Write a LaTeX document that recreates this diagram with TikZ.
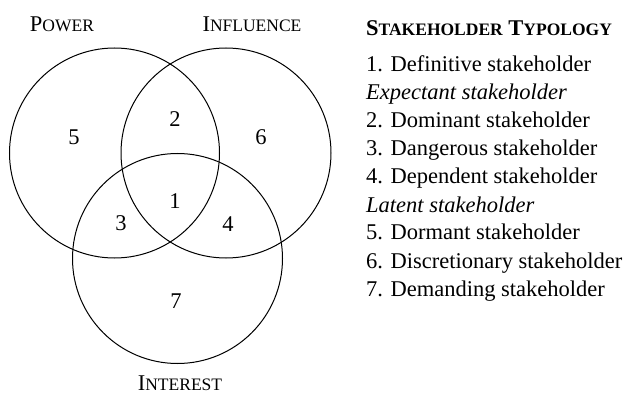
\documentclass[tikz,border=0pt]{standalone}
\usepackage{fontspec}
\setmainfont{Liberation Serif}
\newcommand\mysc[2]{#1{\fontsize{17.5pt}{21pt}\selectfont #2}}
\begin{document}
\begin{tikzpicture}[x=1pt,y=-1pt,
  font=\fontsize{22.5pt}{27pt}\selectfont,
  ring/.style={draw=black, line width=1pt},
  num/.style={inner sep=0pt, anchor=center},
  lbl/.style={inner sep=0pt, anchor=base},
  item/.style={inner sep=0pt, anchor=base west}]
\useasboundingbox (0,0) rectangle (625,396);
\coordinate (cpower) at (114.5,153);
\coordinate (cinfl) at (226,153);
\coordinate (cint) at (177.5,258.5);
\draw[ring] (cpower) circle[radius=105pt];
\draw[ring] (cinfl) circle[radius=105pt];
\draw[ring] (cint) circle[radius=105pt];
\node[lbl] (lpower) at (62,32) {\mysc{P}{OWER}};
\node[lbl] (linfl) at (252,32) {\mysc{I}{NFLUENCE}};
\node[lbl] (lint) at (180,390) {\mysc{I}{NTEREST}};
\node[num] (n5) at (74,137) {5};
\node[num] (n2) at (175,119) {2};
\node[num] (n6) at (261,137) {6};
\node[num] (n1) at (175,201) {1};
\node[num] (n3) at (121,223) {3};
\node[num] (n4) at (228,224) {4};
\node[num] (n7) at (176,301) {7};
\node[item] (title) at (366,36) {\bfseries\mysc{S}{TAKEHOLDER} \mysc{T}{YPOLOGY}};
\node[item] (t1) at (366,72) {1. Definitive stakeholder};
\node[item] (t2) at (366,100) {\itshape Expectant stakeholder};
\node[item] (t3) at (366,128) {2. Dominant stakeholder};
\node[item] (t4) at (366,156) {3. Dangerous stakeholder};
\node[item] (t5) at (366,184) {4. Dependent stakeholder};
\node[item] (t6) at (366,212) {\itshape Latent stakeholder};
\node[item] (t7) at (366,240) {5. Dormant stakeholder};
\node[item] (t8) at (366,268) {6. Discretionary stakeholder};
\node[item] (t9) at (366,296) {7. Demanding stakeholder};
\end{tikzpicture}
\end{document}
